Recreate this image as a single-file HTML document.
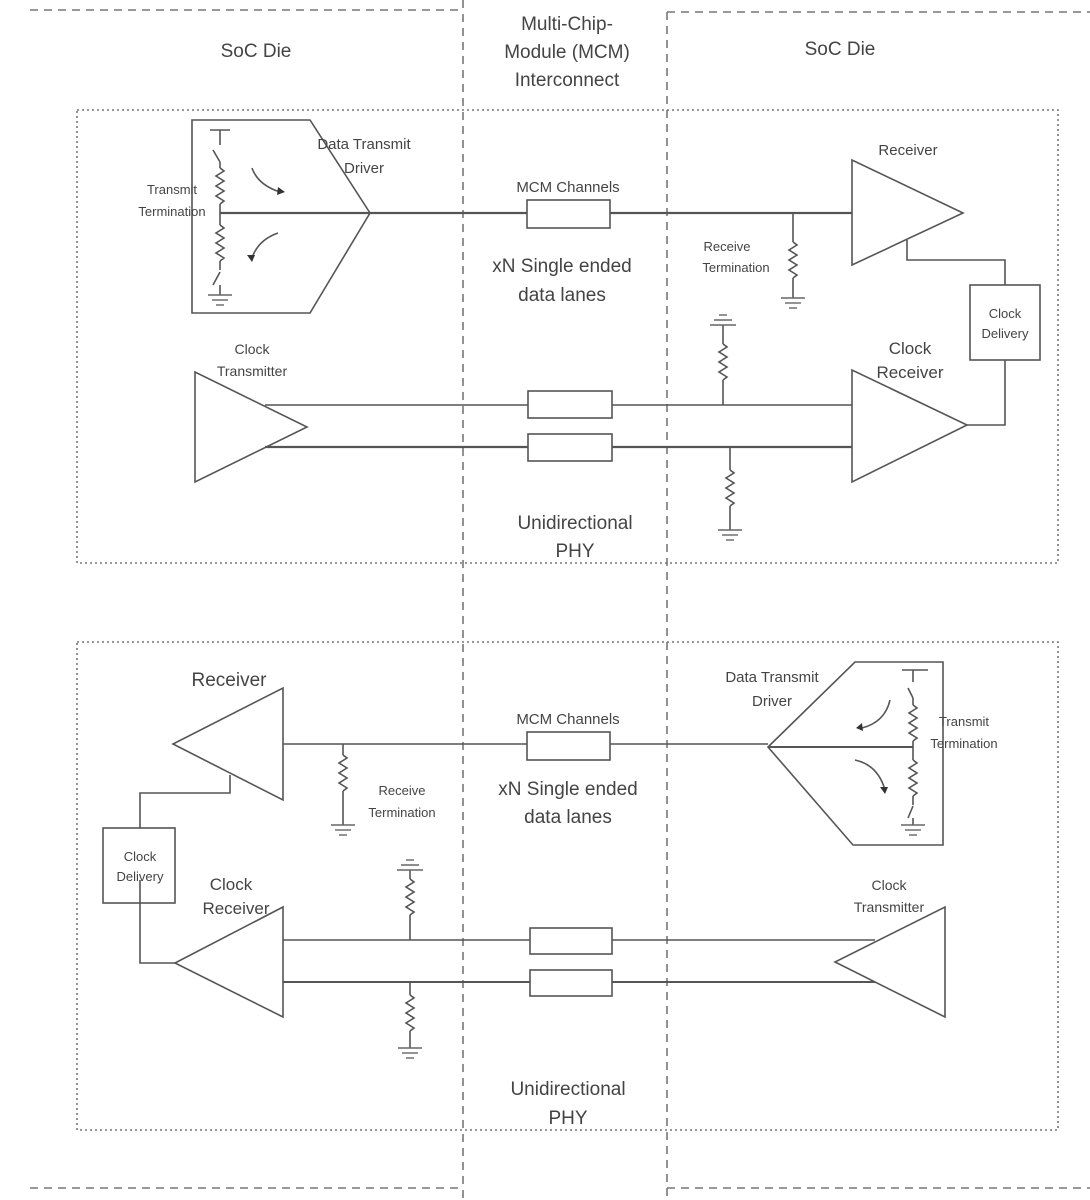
<!DOCTYPE html>
<html><head><meta charset="utf-8"><style>
html,body{margin:0;padding:0;background:#fff;}
svg{display:block;}
text{font-family:"Liberation Sans",sans-serif;fill:#444;}
</style></head><body>
<svg width="1090" height="1200" viewBox="0 0 1090 1200" xmlns="http://www.w3.org/2000/svg">
<defs>
<path id="zz" d="M0,0 l4,3 l-8,5 l8,5 l-8,5 l8,5 l-8,5 l8,5 l-4,3" fill="none" stroke="#555" stroke-width="1.6"/>
<g id="gnd" stroke="#666" stroke-width="1.4"><line x1="-12" y1="0" x2="12" y2="0"/><line x1="-8" y1="5" x2="8" y2="5"/><line x1="-4" y1="10" x2="4" y2="10"/></g>
</defs>
<g fill="none" stroke="#777" stroke-width="1.6" stroke-dasharray="8,6">
<line x1="463" y1="0" x2="463" y2="1200"/>
<line x1="667" y1="12" x2="667" y2="1200"/>
<line x1="667" y1="12" x2="1090" y2="12"/>
<line x1="30" y1="10" x2="460" y2="10"/>
<line x1="30" y1="1188" x2="460" y2="1188"/>
<line x1="667" y1="1188" x2="1090" y2="1188"/>
</g>
<g fill="none" stroke="#777" stroke-width="1.6" stroke-dasharray="2,3">
<rect x="77" y="110" width="981" height="453"/>
<rect x="77" y="642" width="981" height="488"/>
</g>
<g font-size="19" text-anchor="middle">
<text x="256" y="57">SoC Die</text>
<text x="840" y="55">SoC Die</text>
<text x="567" y="30">Multi-Chip-</text>
<text x="567" y="58">Module (MCM)</text>
<text x="567" y="86">Interconnect</text>
</g>
<g fill="none" stroke="#555" stroke-width="1.6">
<!-- TOP -->
<path d="M192,120 L310,120 L370,213 L310,313 L192,313 Z"/>
<line x1="220" y1="213" x2="852" y2="213" stroke-width="2.2"/>
<line x1="210" y1="130" x2="230" y2="130"/><line x1="220" y1="130" x2="220" y2="145"/>
<line x1="213" y1="150" x2="220" y2="162"/><line x1="220" y1="162" x2="220" y2="168"/>
<use href="#zz" x="220" y="168"/><line x1="220" y1="204" x2="220" y2="213"/>
<line x1="220" y1="213" x2="220" y2="225"/><use href="#zz" x="220" y="225"/>
<line x1="220" y1="261" x2="220" y2="270"/><line x1="213" y1="285" x2="220" y2="272"/>
<line x1="220" y1="285" x2="220" y2="295"/><use href="#gnd" x="220" y="295"/>
<path d="M252,168 Q258,185 280,192"/><path d="M278,233 Q258,240 252,258"/>
<rect x="527" y="200" width="83" height="28" fill="#fff"/>
<path d="M852,160 L852,265 L963,213 Z"/>
<line x1="793" y1="213" x2="793" y2="242"/><use href="#zz" x="793" y="242"/>
<line x1="793" y1="278" x2="793" y2="298"/><use href="#gnd" x="793" y="298"/>
<polyline points="907,240 907,260 1005,260 1005,285"/>
<rect x="970" y="285" width="70" height="75"/>
<polyline points="1005,360 1005,425 966,425"/>
<path d="M852,370 L852,482 L967,425 Z"/>
<path d="M195,372 L195,482 L307,427 Z"/>
<line x1="265" y1="405" x2="852" y2="405"/>
<line x1="265" y1="447" x2="852" y2="447" stroke-width="2.2"/>
<rect x="528" y="391" width="84" height="27" fill="#fff"/>
<rect x="528" y="434" width="84" height="27" fill="#fff"/>
<line x1="723" y1="405" x2="723" y2="380"/><use href="#zz" x="723" y="344"/>
<line x1="723" y1="344" x2="723" y2="325"/>
<g stroke="#666" stroke-width="1.4"><line x1="710" y1="325" x2="736" y2="325"/><line x1="714" y1="320" x2="732" y2="320"/><line x1="719" y1="315" x2="727" y2="315"/></g>
<line x1="730" y1="447" x2="730" y2="470"/><use href="#zz" x="730" y="470"/>
<line x1="730" y1="506" x2="730" y2="530"/><use href="#gnd" x="730" y="530"/>
<!-- BOTTOM -->
<path d="M283,688 L283,800 L173,744 Z"/>
<line x1="283" y1="744" x2="768" y2="744"/>
<line x1="768" y1="747" x2="913" y2="747" stroke-width="2"/>
<rect x="527" y="732" width="83" height="28" fill="#fff"/>
<line x1="343" y1="744" x2="343" y2="755"/><use href="#zz" x="343" y="755"/>
<line x1="343" y1="791" x2="343" y2="825"/><use href="#gnd" x="343" y="825"/>
<polyline points="230,775 230,793 140,793 140,828"/>
<rect x="103" y="828" width="72" height="75"/>
<polyline points="140,880 140,963 175,963"/>
<path d="M283,907 L283,1017 L175,963 Z"/>
<line x1="283" y1="940" x2="875" y2="940"/>
<line x1="283" y1="982" x2="875" y2="982" stroke-width="2"/>
<rect x="530" y="928" width="82" height="26" fill="#fff"/>
<rect x="530" y="970" width="82" height="26" fill="#fff"/>
<path d="M945,907 L945,1017 L835,962 Z"/>
<line x1="410" y1="940" x2="410" y2="915"/><use href="#zz" x="410" y="879"/>
<line x1="410" y1="879" x2="410" y2="870"/>
<g stroke="#666" stroke-width="1.4"><line x1="397" y1="870" x2="423" y2="870"/><line x1="401" y1="865" x2="419" y2="865"/><line x1="406" y1="860" x2="414" y2="860"/></g>
<line x1="410" y1="982" x2="410" y2="995"/><use href="#zz" x="410" y="995"/>
<line x1="410" y1="1031" x2="410" y2="1048"/><use href="#gnd" x="410" y="1048"/>
<path d="M768,747 L855,662 L943,662 L943,845 L853,845 Z"/>
<line x1="902" y1="670" x2="928" y2="670"/><line x1="913" y1="670" x2="913" y2="682"/>
<line x1="908" y1="688" x2="913" y2="698"/><line x1="913" y1="698" x2="913" y2="705"/>
<use href="#zz" x="913" y="705"/><line x1="913" y1="741" x2="913" y2="760"/>
<use href="#zz" x="913" y="760"/><line x1="913" y1="796" x2="913" y2="805"/>
<line x1="908" y1="818" x2="913" y2="806"/><line x1="913" y1="818" x2="913" y2="825"/>
<use href="#gnd" x="913" y="825"/>
<path d="M890,700 Q885,722 862,728"/><path d="M855,760 Q878,765 885,790"/>
</g>
<g fill="#333"><path d="M278,187 l7,5 l-8,3 z"/><path d="M247,255 l5,7 l3,-7 z"/><path d="M862,723 l-6,5 l7,3 z"/><path d="M880,787 l5,7 l3,-7 z"/></g>
<g font-size="13" text-anchor="middle">
<text x="172" y="194">Transmit</text><text x="172" y="216">Termination</text>
<text x="364" y="149" font-size="15">Data Transmit</text><text x="364" y="173" font-size="15">Driver</text>
<text x="568" y="192" font-size="15">MCM Channels</text>
<text x="908" y="155" font-size="15">Receiver</text>
<text x="727" y="251">Receive</text><text x="736" y="272">Termination</text>
<text x="1005" y="318">Clock</text><text x="1005" y="338">Delivery</text>
<text x="252" y="354" font-size="14">Clock</text><text x="252" y="376" font-size="14">Transmitter</text>
<text x="910" y="354" font-size="17">Clock</text><text x="910" y="378" font-size="17">Receiver</text>
<text x="562" y="272" font-size="19">xN Single ended</text><text x="562" y="301" font-size="19">data lanes</text>
<text x="575" y="529" font-size="19">Unidirectional</text><text x="575" y="557" font-size="19">PHY</text>
<text x="229" y="686" font-size="19">Receiver</text>
<text x="568" y="724" font-size="15">MCM Channels</text>
<text x="568" y="795" font-size="19">xN Single ended</text><text x="568" y="823" font-size="19">data lanes</text>
<text x="402" y="795">Receive</text><text x="402" y="817">Termination</text>
<text x="140" y="861">Clock</text><text x="140" y="881">Delivery</text>
<text x="231" y="890" font-size="17">Clock</text><text x="236" y="914" font-size="17">Receiver</text>
<text x="772" y="682" font-size="15">Data Transmit</text><text x="772" y="706" font-size="15">Driver</text>
<text x="964" y="726">Transmit</text><text x="964" y="748">Termination</text>
<text x="889" y="890" font-size="14">Clock</text><text x="889" y="912" font-size="14">Transmitter</text>
<text x="568" y="1095" font-size="19">Unidirectional</text><text x="568" y="1124" font-size="19">PHY</text>
</g>
</svg>
</body></html>
